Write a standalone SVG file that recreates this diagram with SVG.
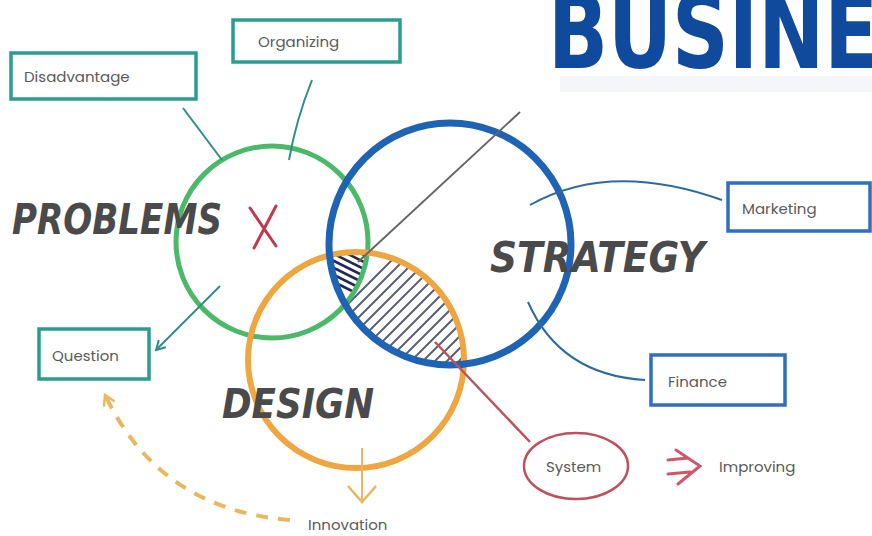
<svg xmlns="http://www.w3.org/2000/svg" width="872" height="536" viewBox="0 0 872 536">
<defs>
<style>
.hand{font-family:"DejaVu Sans","Liberation Sans",sans-serif;font-weight:bold;font-style:italic;fill:#4a4a4a;}
.lbl{font-family:"Poppins","Open Sans","Liberation Sans",sans-serif;font-size:15px;fill:#5a5a5a;}
.tbox{fill:#fff;stroke:#2a9d8f;stroke-width:3.5;}
.bbox{fill:#fff;stroke:#2f6fbf;stroke-width:3.5;}
.tline{fill:none;stroke:#2f8f86;stroke-width:2;}
.bline{fill:none;stroke:#2f6a9c;stroke-width:2;}
.hatch{stroke:#5a5f78;stroke-width:2;}
.hatch2{stroke:#1f2a55;stroke-width:2.5;}
</style>
<clipPath id="cO"><circle cx="356" cy="360" r="108"/></clipPath>
<clipPath id="cB"><circle cx="450" cy="244" r="121"/></clipPath>
<clipPath id="cG"><circle cx="272" cy="242" r="96"/></clipPath>
<marker id="ah" viewBox="0 0 12 12" refX="10" refY="6" markerWidth="12" markerHeight="12" markerUnits="userSpaceOnUse" orient="auto">
<path d="M1,1 L10,6 L1,11" fill="none" stroke="#2f8f86" stroke-width="2"/>
</marker>
<marker id="ahO" viewBox="0 0 14 14" refX="11" refY="7" markerWidth="14" markerHeight="14" markerUnits="userSpaceOnUse" orient="auto">
<path d="M1,1 L11,7 L1,13" fill="none" stroke="#e8b860" stroke-width="2.5"/>
</marker>
</defs>
<rect width="872" height="536" fill="#fff"/>

<!-- Title -->
<g id="title">
<rect x="560" y="76" width="312" height="16" fill="#c9d3e8" opacity="0.2"/>
<text x="548" y="68" font-family="'DejaVu Sans Condensed','DejaVu Sans',sans-serif" font-weight="bold" font-size="104" fill="#0f4a9c" textLength="330" lengthAdjust="spacingAndGlyphs">BUSINE</text>
</g>

<!-- hatch -->
<g id="hatch-area">
<g clip-path="url(#cO)"><g clip-path="url(#cB)">
<path class="hatch" d="M300,400 L460,240 M312,400 L472,240 M324,400 L484,240 M336,400 L496,240 M348,400 L508,240 M360,400 L520,240 M372,400 L532,240 M384,400 L544,240 M396,400 L556,240 M408,400 L568,240 M420,400 L580,240 M288,400 L448,240 M276,400 L436,240 M264,400 L424,240 M252,400 L412,240"/>
</g></g>
<g clip-path="url(#cO)"><g clip-path="url(#cB)"><g clip-path="url(#cG)">
<rect x="320" y="240" width="60" height="60" fill="#fff"/>
<path class="hatch2" d="M320,240 L380,270 M320,247 L380,277 M320,254 L380,284 M320,261 L380,291 M320,268 L380,298 M320,233 L380,263 M320,226 L380,256 M320,275 L380,305"/>
</g></g></g>
</g>

<!-- circles -->
<g id="problems">
<circle cx="272" cy="242" r="96" fill="none" stroke="#4cb86a" stroke-width="5"/>
<text class="hand" x="12" y="234" font-size="42" textLength="210" lengthAdjust="spacingAndGlyphs">PROBLEMS</text>
<path d="M250,208 L276,246 M276,206 L254,248" stroke="#c0394f" stroke-width="3" fill="none" stroke-linecap="round"/>
</g>
<g id="design">
<circle cx="356" cy="360" r="108" fill="none" stroke="#f0a640" stroke-width="6"/>
<text class="hand" x="222" y="418" font-size="40" textLength="152" lengthAdjust="spacingAndGlyphs">DESIGN</text>
</g>
<g id="strategy">
<circle cx="450" cy="244" r="121" fill="none" stroke="#1f63b5" stroke-width="7"/>
<text class="hand" x="490" y="272" font-size="42" textLength="215" lengthAdjust="spacingAndGlyphs">STRATEGY</text>
</g>

<!-- connectors -->
<g id="connectors">
<path class="tline" d="M183,108 L222,160"/>
<path class="tline" d="M312,80 Q296,120 289,160"/>
<path class="tline" d="M220,286 L156,350" marker-end="url(#ah)"/>
<path class="bline" d="M530,205 Q610,160 722,200"/>
<path class="bline" d="M528,302 Q560,375 645,380"/>
<path d="M358,262 L520,112" stroke="#666" stroke-width="2" fill="none"/>
<path d="M435,342 L530,442" stroke="#c0505a" stroke-width="2.5" fill="none"/>
<path d="M362,448 L362,500" stroke="#e8b860" stroke-width="2" fill="none"/>
<path d="M348,486 L362,502 L376,486" stroke="#e8b860" stroke-width="2.5" fill="none"/>
<path d="M290,520 Q160,510 105,395" stroke="#e8b860" stroke-width="4" fill="none" stroke-dasharray="12,10" marker-end="url(#ahO)"/>
<path d="M668,460 L688,458 M668,474 L690,472 M676,450 L700,466 L678,484" stroke="#d2566a" stroke-width="3" fill="none" stroke-linecap="round"/>
</g>

<!-- boxes -->
<g id="disadvantage">
<rect class="tbox" x="11" y="53" width="185" height="46"/>
<text class="lbl" x="24" y="82">Disadvantage</text>
</g>
<g id="organizing">
<rect class="tbox" x="233" y="20" width="167" height="42"/>
<text class="lbl" x="258" y="47">Organizing</text>
</g>
<g id="question">
<rect class="tbox" x="39" y="329" width="110" height="50"/>
<text class="lbl" x="52" y="361">Question</text>
</g>
<g id="marketing">
<rect class="bbox" x="728" y="183" width="142" height="48"/>
<text class="lbl" x="742" y="214">Marketing</text>
</g>
<g id="finance">
<rect class="bbox" x="651" y="355" width="134" height="50"/>
<text class="lbl" x="668" y="387">Finance</text>
</g>
<g id="system">
<ellipse cx="576" cy="466" rx="52" ry="33" fill="none" stroke="#c0505a" stroke-width="2.5"/>
<text class="lbl" x="546" y="472">System</text>
</g>
<g id="improving">
<text class="lbl" x="719" y="472">Improving</text>
</g>
<g id="innovation">
<text class="lbl" x="308" y="530" font-size="14">Innovation</text>
</g>
</svg>
